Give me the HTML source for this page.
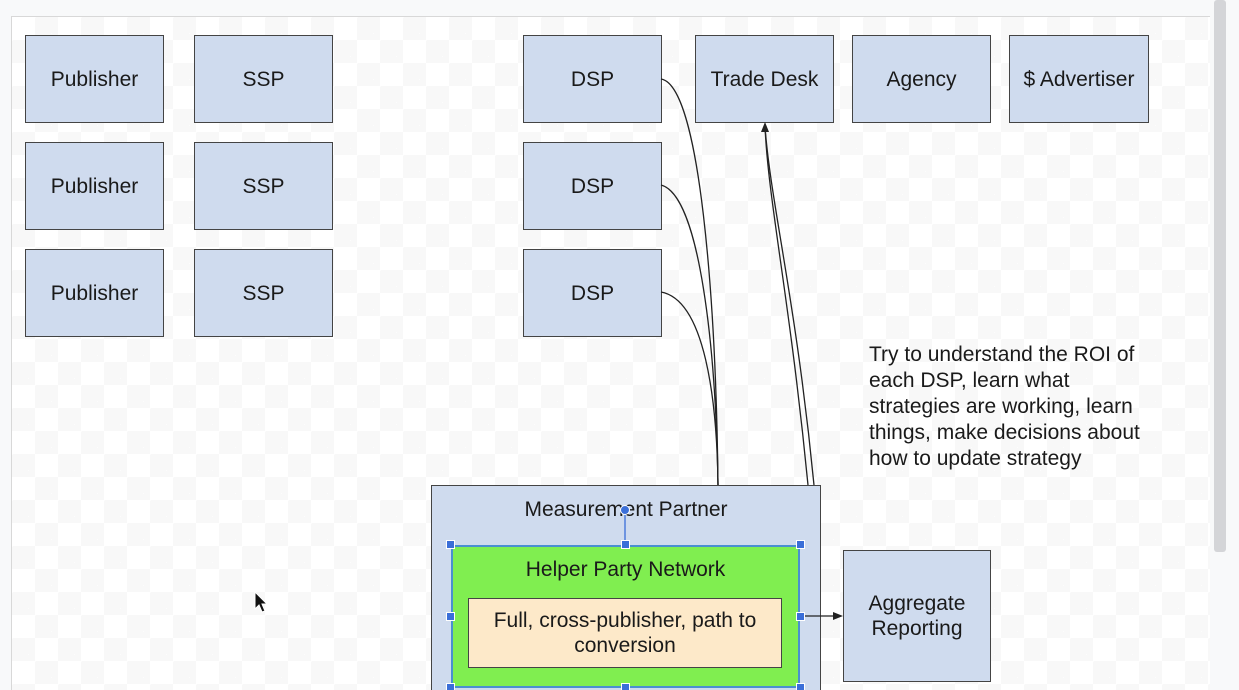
<!DOCTYPE html>
<html style="overflow:hidden;height:690px"><head><style>
body{margin:0;width:1239px;height:690px;overflow:hidden;background:#f8f9fa;font-family:"Liberation Sans",sans-serif;position:relative}
#canvas{position:absolute;left:11px;top:16px;width:1198px;height:674px;border-top:1px solid #d8d8d8;border-left:1px solid #d8d8d8;
background-color:#fff;background-image:linear-gradient(45deg,#f8f8f8 25%,transparent 25%,transparent 75%,#f8f8f8 75%),linear-gradient(45deg,#f8f8f8 25%,transparent 25%,transparent 75%,#f8f8f8 75%);background-size:46px 46px;background-position:0 0,23px 23px}
.b{position:absolute;box-sizing:border-box;background:#cfdbee;border:1.5px solid #444;display:flex;align-items:center;justify-content:center;text-align:center;font-size:21px;color:#1a1a1a;line-height:25px}
.sb{position:absolute;left:1214px;top:0;width:12px;height:552px;background:#d4d5d8;border-radius:3px}
.h{position:absolute;width:9px;height:9px;background:#3b6fd8;border:1px solid #fff;box-sizing:border-box}
</style></head><body>
<div id="canvas"></div>
<div class="sb"></div>
<div class="b" style="left:25px;top:35px;width:139px;height:88px">Publisher</div>
<div class="b" style="left:194px;top:35px;width:139px;height:88px">SSP</div>
<div class="b" style="left:25px;top:142px;width:139px;height:88px">Publisher</div>
<div class="b" style="left:194px;top:142px;width:139px;height:88px">SSP</div>
<div class="b" style="left:25px;top:249px;width:139px;height:88px">Publisher</div>
<div class="b" style="left:194px;top:249px;width:139px;height:88px">SSP</div>
<div class="b" style="left:523px;top:35px;width:139px;height:88px">DSP</div>
<div class="b" style="left:523px;top:142px;width:139px;height:88px">DSP</div>
<div class="b" style="left:523px;top:249px;width:139px;height:88px">DSP</div>
<div class="b" style="left:695px;top:35px;width:139px;height:88px">Trade Desk</div>
<div class="b" style="left:852px;top:35px;width:139px;height:88px">Agency</div>
<div class="b" style="left:1009px;top:35px;width:140px;height:88px">$ Advertiser</div>
<div class="b" style="left:431px;top:485px;width:390px;height:205px;border-bottom:none;align-items:flex-start;padding-top:11px">Measurement Partner</div>
<div class="b" style="left:451px;top:545px;width:349px;height:143px;background:#80ee50;border:2px solid #4a8fd0;align-items:flex-start;padding-top:10px">Helper Party Network</div>
<div class="b" style="left:468px;top:598px;width:314px;height:70px;background:#fde9c9">Full, cross-publisher, path to<br>conversion</div>
<div class="b" style="left:843px;top:550px;width:148px;height:132px">Aggregate<br>Reporting</div>
<div style="position:absolute;left:869px;top:342px;font-size:21px;line-height:26px;color:#1a1a1a;white-space:nowrap">Try to understand the ROI of<br>each DSP, learn what<br>strategies are working, learn<br>things, make decisions about<br>how to update strategy</div>
<svg width="1239" height="690" style="position:absolute;left:0;top:0">
<g fill="none" stroke="#222" stroke-width="1.3">
<path d="M661 79 C700 85 716 300 718 485"/>
<path d="M661 185 C700 195 716 350 718 485"/>
<path d="M661 292 C705 300 717 400 718 485"/>
<path d="M808 485 C790 300 768 200 765 126"/>
<path d="M814 485 C796 300 770 200 765 126"/>
<path d="M804 616 L834 616"/>
<path d="M625 510 L625 544" stroke="#3b6fd8"/>
</g>
<path d="M765 122 L761 132 L769 132Z" fill="#222"/>
<path d="M843 616 L833 612 L833 620Z" fill="#222"/>
<circle cx="625" cy="510" r="4.5" fill="#3b6fd8" stroke="#fff"/>
</svg>
<div class="h" style="left:446px;top:540px"></div>
<div class="h" style="left:621px;top:540px"></div>
<div class="h" style="left:796px;top:540px"></div>
<div class="h" style="left:446px;top:612px"></div>
<div class="h" style="left:796px;top:612px"></div>
<div class="h" style="left:446px;top:683px"></div>
<div class="h" style="left:621px;top:683px"></div>
<div class="h" style="left:796px;top:683px"></div>
<svg width="20" height="26" style="position:absolute;left:254px;top:591px"><path d="M1 1 L1 18 L5 14 L8 21 L11 20 L8 13 L13 13Z" fill="#111" stroke="#fff" stroke-width="1"/></svg>
</body></html>
